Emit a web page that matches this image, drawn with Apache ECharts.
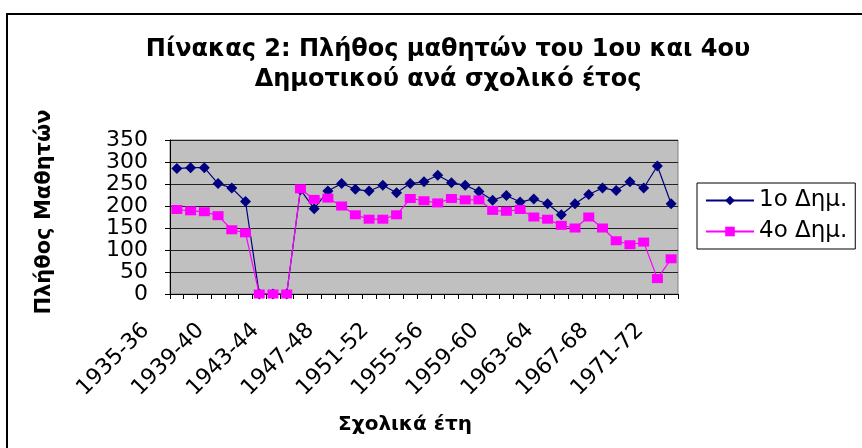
<!DOCTYPE html>
<html>
<head>
<meta charset="utf-8">
<script src="https://cdn.jsdelivr.net/npm/echarts@6/dist/echarts.min.js"></script>
<style>
  html, body { margin: 0; padding: 0; background: #fff; }
  #chart { width: 862px; height: 448px; }
</style>
</head>
<body>
<div id="chart"></div>
<script>
// σχολικά έτη
const years = [
  '1935-36', '1936-37', '1937-38', '1938-39', '1939-40', '1940-41', '1941-42',
  '1942-43', '1943-44', '1944-45', '1945-46', '1946-47', '1947-48', '1948-49',
  '1949-50', '1950-51', '1951-52', '1952-53', '1953-54', '1954-55', '1955-56',
  '1956-57', '1957-58', '1958-59', '1959-60', '1960-61', '1961-62', '1962-63',
  '1963-64', '1964-65', '1965-66', '1966-67', '1967-68', '1968-69', '1969-70',
  '1970-71', '1971-72'
]

// 1ο Δημοτικού
const first = [
  285, 287, 287, 251, 241, 210, 0, 0, 0, 237, 194, 234, 251, 238, 234, 247,
  230, 251, 255, 270, 253, 247, 233, 213, 224, 209, 216, 205, 180, 205, 226,
  241, 235, 255, 241, 291, 205
]

// 4ο Δημοτικού
const fourth = [
  192, 189, 187, 178, 146, 139, 0, 0, 0, 239, 215, 218, 200, 180, 170, 170,
  180, 217, 212, 207, 217, 214, 214, 190, 188, 192, 175, 170, 156, 150, 175,
  150, 121, 112, 118, 35, 80
]

const yTicks = { min: 0, max: 350, step: 50 }

let myChart = echarts.init(document.getElementById('chart'))

const font = 'DejaVu Sans'

let option = {
  animation: false,
  textStyle: { fontFamily: font },
  graphic: [
    {
      type: 'rect',
      shape: { x: 7, y: 14, width: 900, height: 500 },
      style: { fill: 'none', stroke: '#000', lineWidth: 2 },
    },
  ],
  title: {
    text: 'Πίνακας 2: Πλήθος μαθητών του 1ου και 4ου\nΔημοτικού ανά σχολικό έτος',
    left: 443,
    textAlign: 'center',
    top: 30,
    textStyle: {
      fontFamily: font,
      fontSize: 24,
      fontWeight: 'bold',
      color: '#000',
      lineHeight: 30,
    },
  },
  legend: {
    orient: 'vertical',
    left: 697,
    top: 183,
    padding: [6, 8, 6, 8],
    itemGap: 8,
    itemWidth: 48,
    itemHeight: 12,
    borderColor: '#000',
    borderWidth: 1,
    textStyle: { fontFamily: font, fontSize: 23, color: '#000' },
    data: ['1ο Δημ.', '4ο Δημ.'],
  },
  grid: {
    left: 170,
    right: 184,
    top: 140,
    bottom: 154,
    show: true,
    backgroundColor: '#C0C0C0',
    borderColor: '#808080',
    borderWidth: 1,
  },
  xAxis: {
    type: 'category',
    data: years,
    boundaryGap: true,
    name: 'Σχολικά έτη',
    nameLocation: 'middle',
    nameGap: 121,
    nameTextStyle: {
      fontFamily: font,
      fontSize: 20,
      fontWeight: 'bold',
      color: '#000',
      padding: [0, 38, 0, 0],
    },
    axisLine: { lineStyle: { color: '#000', width: 1 } },
    axisTick: { show: true, length: 5, interval: 0, lineStyle: { color: '#000' } },
    axisLabel: {
      interval: 3,
      rotate: 45,
      margin: 2,
      padding: [0, 44, 0, 0],
      fontFamily: font,
      fontSize: 22,
      color: '#000',
    },
    splitLine: { show: false },
  },
  yAxis: {
    type: 'value',
    min: yTicks.min,
    max: yTicks.max,
    interval: yTicks.step,
    name: 'Πλήθος Μαθητών',
    nameLocation: 'middle',
    nameGap: 115,
    nameTextStyle: {
      fontFamily: font,
      fontSize: 21,
      fontWeight: 'bold',
      color: '#000',
      padding: [0, 0, 0, 10],
    },
    axisLine: { show: true, lineStyle: { color: '#000', width: 1 } },
    axisTick: { show: true, length: 5, lineStyle: { color: '#000' } },
    axisLabel: {
      margin: 22,
      fontFamily: font,
      fontSize: 22,
      lineHeight: 14,
      color: '#000',
      showMinLabel: true,
      showMaxLabel: true,
      hideOverlap: false,
    },
    splitLine: { show: true, lineStyle: { color: '#222', width: 1 } },
  },
  series: [
    {
      name: '1ο Δημ.',
      type: 'line',
      data: first,
      symbol: 'diamond',
      symbolSize: [11, 11],
      showAllSymbol: true,
      lineStyle: { color: '#000080', width: 1.2 },
      itemStyle: { color: '#000080' },
    },
    {
      name: '4ο Δημ.',
      type: 'line',
      data: fourth,
      symbol: 'rect',
      symbolSize: [11, 9],
      showAllSymbol: true,
      lineStyle: { color: '#FF00FF', width: 1.2 },
      itemStyle: { color: '#FF00FF' },
    },
  ],
}

myChart.setOption(option)
</script>
</body>
</html>
